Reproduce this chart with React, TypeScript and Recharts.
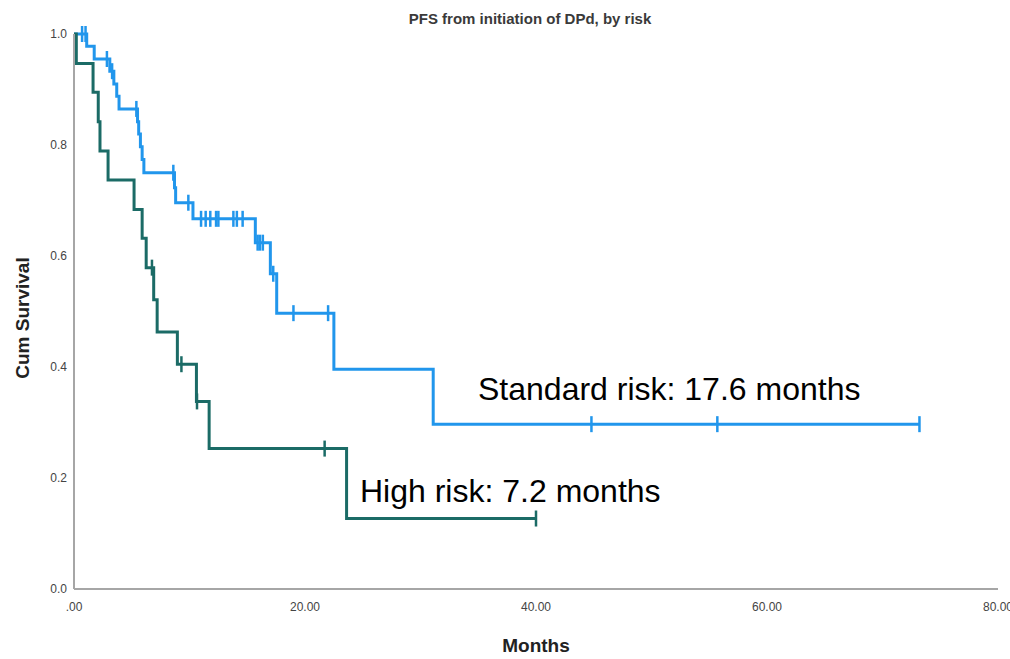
import { LineChart, Line, XAxis, YAxis, Customized } from 'recharts'

// Kaplan-Meier steps (months, cumulative survival)
const standardEventTimes = [1.1, 1.75, 3.1, 3.45, 3.7, 3.9, 5.5, 5.6, 5.75, 5.9, 6.05, 8.7, 8.8, 10.3, 15.7, 17.0, 17.55, 22.5, 31.1]
const standardEventSurv = [0.978, 0.955, 0.933, 0.91, 0.888, 0.865, 0.842, 0.82, 0.797, 0.774, 0.75, 0.723, 0.696, 0.667, 0.624, 0.568, 0.497, 0.396, 0.297]
const standardCensorTimes = [0.7, 1.0, 2.85, 3.3, 5.4, 8.6, 9.9, 11.0, 11.4, 11.8, 12.3, 12.5, 13.8, 14.1, 14.6, 15.9, 16.1, 16.35, 17.25, 19.0, 22.0, 44.8, 55.7, 73.2]

const highEventTimes = [0.2, 1.65, 2.1, 2.25, 2.95, 5.2, 5.9, 6.25, 6.9, 7.2, 8.95, 10.6, 11.7, 23.6]
const highEventSurv = [0.947, 0.895, 0.842, 0.789, 0.737, 0.684, 0.632, 0.579, 0.521, 0.463, 0.405, 0.338, 0.253, 0.127]
const highCensorTimes = [6.75, 9.3, 10.65, 21.7, 40]

const xTicks = [0, 20, 40, 60, 80]
const yTicks = [0, 0.2, 0.4, 0.6, 0.8, 1.0]

const STANDARD = '#2196ec'
const HIGH = '#1b6b66'
const AXIS = '#a6a6a6'
const FONT = '"Liberation Sans", Arial, sans-serif'

type Pt = { t: number; s: number; censored: boolean }

function buildCurve(eventTimes: number[], eventSurv: number[], censorTimes: number[]): Pt[] {
  const rows: Pt[] = [{ t: 0, s: 1, censored: false }]
  const all = [
    ...eventTimes.map((t, i) => ({ t, ev: i })),
    ...censorTimes.map((t) => ({ t, ev: -1 })),
  ].sort((a, b) => a.t - b.t)
  let cur = 1
  for (const p of all) {
    if (p.ev >= 0) {
      cur = eventSurv[p.ev]
      rows.push({ t: p.t, s: cur, censored: false })
    } else {
      rows.push({ t: p.t, s: cur, censored: true })
    }
  }
  return rows
}

const standardData = buildCurve(standardEventTimes, standardEventSurv, standardCensorTimes)
const highData = buildCurve(highEventTimes, highEventSurv, highCensorTimes)

const censorDot = (color: string) => (props: any) => {
  const { cx, cy, payload, index } = props
  if (!payload?.censored || cx == null) return <g key={`d${index}`} />
  return <line key={`d${index}`} x1={cx} x2={cx} y1={cy - 8} y2={cy + 8} stroke={color} strokeWidth={2.5} />
}

const Texts = () => (
  <g fontFamily={FONT}>
    <text x={530} y={24} textAnchor="middle" fontSize={15} fontWeight="bold" fill="#3a3a3a">
      PFS from initiation of DPd, by risk
    </text>
    <text x={0} y={0} transform="translate(29 318) rotate(-90)" textAnchor="middle" fontSize={19} fontWeight="bold" fill="#222">
      Cum Survival
    </text>
    <text x={536} y={652} textAnchor="middle" fontSize={19} fontWeight="bold" fill="#222">
      Months
    </text>
    <text x={478} y={400} fontSize={32} fill="#000">Standard risk: 17.6 months</text>
    <text x={360} y={502} fontSize={32} fill="#000">High risk: 7.2 months</text>
  </g>
)

export default function App() {
  return (
    <div style={{ position: 'absolute', left: 0, top: 0, background: '#fff' }}>
      <LineChart width={1010} height={659} margin={{ top: 34, right: 12, left: 40, bottom: 30 }}>
        <XAxis
          type="number"
          dataKey="t"
          domain={[0, 80]}
          ticks={xTicks}
          interval={0}
          allowDataOverflow
          tickFormatter={(v) => (v === 0 ? '.00' : Number(v).toFixed(2))}
          tick={{ fontSize: 12, fill: '#444', fontFamily: FONT }}
          axisLine={{ stroke: AXIS, strokeWidth: 2 }}
          tickLine={false}
          tickSize={0}
          tickMargin={13}
          height={40}
        />
        <YAxis
          type="number"
          dataKey="s"
          domain={[0, 1]}
          ticks={yTicks}
          interval={0}
          tickFormatter={(v) => Number(v).toFixed(1)}
          tick={{ fontSize: 12, fill: '#444', fontFamily: FONT }}
          axisLine={{ stroke: AXIS, strokeWidth: 2 }}
          tickLine={false}
          tickSize={0}
          tickMargin={7}
          width={34}
        />
        <Line
          data={standardData}
          dataKey="s"
          type="stepAfter"
          stroke={STANDARD}
          strokeWidth={3}
          dot={censorDot(STANDARD)}
          activeDot={false}
          isAnimationActive={false}
        />
        <Line
          data={highData}
          dataKey="s"
          type="stepAfter"
          stroke={HIGH}
          strokeWidth={3}
          dot={censorDot(HIGH)}
          activeDot={false}
          isAnimationActive={false}
        />
        <Customized component={Texts} />
      </LineChart>
    </div>
  )
}
